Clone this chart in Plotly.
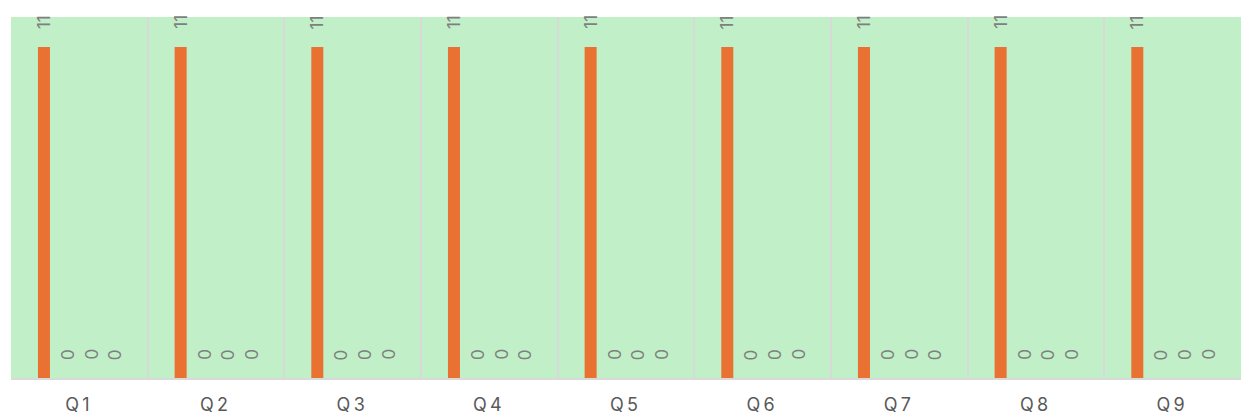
import plotly.graph_objects as go

categories = ["Q1", "Q2", "Q3", "Q4", "Q5", "Q6", "Q7", "Q8", "Q9"]
tick_labels = ["Q\u20091", "Q\u20092", "Q\u20093", "Q\u20094", "Q\u20095",
               "Q\u20096", "Q\u20097", "Q\u20098", "Q\u20099"]
series_a = [11, 11, 11, 11, 11, 11, 11, 11, 11]
series_b = [0, 0, 0, 0, 0, 0, 0, 0, 0]
series_c = [0, 0, 0, 0, 0, 0, 0, 0, 0]
series_d = [0, 0, 0, 0, 0, 0, 0, 0, 0]

series = [
    ("A", series_a, "#E97132"),
    ("B", series_b, "#7F7F7F"),
    ("C", series_c, "#7F7F7F"),
    ("D", series_d, "#7F7F7F"),
]

BARGAP = 0.31
BARGROUPGAP = 0.49
n = len(series)
slot = (1 - BARGAP) / n

fig = go.Figure()
annotations = []
for k, (name, vals, color) in enumerate(series):
    fig.add_trace(go.Bar(x=categories, y=vals, name=name, marker_color=color,
                         marker_line_width=0, showlegend=False, hoverinfo="skip"))
    off = (k - (n - 1) / 2) * slot
    for i, v in enumerate(vals):
        annotations.append(dict(
            x=i + off, y=v, xref="x", yref="y", text=str(v), showarrow=False,
            textangle=-90, yanchor="bottom", xanchor="center", yshift=16,
            font=dict(family="Inter, Roboto, sans-serif", size=17, color="#7F7F7F"),
        ))

fig.update_layout(
    width=1241, height=419,
    margin=dict(l=11, r=0, t=17, b=41),
    barmode="group", bargap=BARGAP, bargroupgap=BARGROUPGAP,
    plot_bgcolor="#C1F0C8", paper_bgcolor="white",
    annotations=annotations,
)
fig.update_xaxes(
    type="category", tickson="boundaries", showgrid=True, gridcolor="#D9D9D9",
    gridwidth=2, showline=True, linecolor="#D9D9D9", linewidth=2, ticks="",
    tickmode="array", tickvals=categories, ticktext=tick_labels,
    tickfont=dict(family="Inter, Roboto, sans-serif", size=18, color="#595959"),
    ticklabelstandoff=9, ticklabelshift=-2,
)
fig.update_yaxes(range=[0, 12], showgrid=False, showticklabels=False,
                 zeroline=False, showline=False, ticks="")

fig.write_html("out.html", config={"displayModeBar": False},
               post_script="document.body.style.margin='0';document.body.style.overflow='hidden';")
